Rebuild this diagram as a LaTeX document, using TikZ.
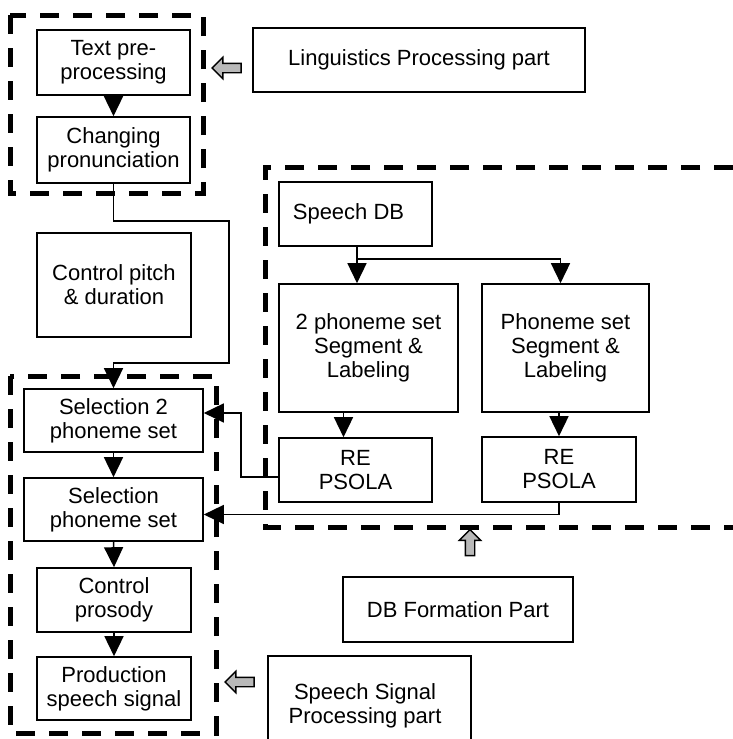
\documentclass[tikz,border=0pt]{standalone}
\usepackage{fontspec}
\setmainfont{Liberation Sans}
\usetikzlibrary{arrows.meta,shapes.arrows}
\begin{document}
\begin{tikzpicture}[x=1pt,y=-1pt,
  font=\fontsize{22}{24}\selectfont,
  box/.style={draw,line width=1.6pt,align=center,inner sep=2pt},
  grp/.style={draw,line width=5pt,dash pattern=on 19pt off 14pt},
  arr/.style={line width=1.5pt,-{Triangle[width=19pt,length=20pt]}},
  hollow/.style={single arrow,draw,line width=1.4pt,fill=gray!55,inner sep=4pt,
    single arrow head extend=6pt,single arrow head indent=0pt,minimum height=29pt}]
\useasboundingbox (0,0) rectangle (733,739);
% group frames
\draw[grp] (10,15) rectangle (203,193);
\draw[grp] (10,376) rectangle (216,733);
\draw[grp] (733,167) -- (265,167) -- (265,527) -- (733,527);
% left column
\node[box,minimum width=153pt,minimum height=65pt] (tpre) at (113.5,62.5) {Text pre-\\processing};
\node[box,minimum width=153pt,minimum height=66pt] (chpron) at (113.5,150) {Changing\\pronunciation};
\node[box,minimum width=154pt,minimum height=104pt] (ctrlp) at (114,285) {Control pitch\\\& duration};
\node[box,minimum width=179pt,minimum height=63pt] (sel2) at (113.5,420.5) {Selection 2\\phoneme set};
\node[box,minimum width=179pt,minimum height=63pt] (sel1) at (113.5,509.5) {Selection\\phoneme set};
\node[box,minimum width=154pt,minimum height=64pt] (pros) at (114,600) {Control\\prosody};
\node[box,minimum width=154pt,minimum height=63pt] (prod) at (114,688.5) {Production\\speech signal};
% DB part
\node[box,minimum width=153pt,minimum height=64pt] (sdb) at (355.5,214) {Speech DB\hspace{14pt}};
\node[box,minimum width=179pt,minimum height=128pt] (ph2) at (368.5,348) {2 phoneme set\\Segment \&\\Labeling};
\node[box,minimum width=167pt,minimum height=128pt] (ph1) at (565.5,348) {Phoneme set\\Segment \&\\Labeling};
\node[box,minimum width=153pt,minimum height=64pt] (re1) at (355.5,470) {RE\\PSOLA};
\node[box,minimum width=154pt,minimum height=65pt] (re2) at (559,469.5) {RE\\PSOLA};
% part labels
\node[box,minimum width=332pt,minimum height=64pt] (ling) at (419,60) {Linguistics Processing part};
\node[box,minimum width=230pt,minimum height=65pt] (dbf) at (458,609.5) {DB Formation Part};
\draw[line width=1.6pt] (268,745) -- (268,656) -- (471,656) -- (471,745);
\node[align=center] (ssp) at (365,706) {Speech Signal\\Processing part};
% hollow arrows
\node[hollow,shape border rotate=180] (ha1) at (229,68) {};
\node[hollow,shape border rotate=180] (ha2) at (242,682) {};
\node[hollow,shape border rotate=90,minimum height=26pt] (ha3) at (470,545) {};
% connectors
\draw[arr] (tpre.south) -- (chpron.north);
\draw[arr] (chpron.south) |- (229,221) -- (229,363) -| (sel2.north);
\draw[arr] (sel2.south) -- (sel1.north);
\draw[arr] (sel1.south) -- (pros.north);
\draw[arr] (pros.south) -- (prod.north);
\coordinate (br) at (357,259);
\draw[arr] (br |- sdb.south) -- (br |- ph2.north);
\draw[arr] (br) -| ([xshift=-5pt]ph1.north);
\draw[arr] ([xshift=-12pt]re1.north |- ph2.south) -- ([xshift=-12pt]re1.north);
\draw[arr] (re2.north |- ph1.south) -- (re2.north);
\draw[arr] ([yshift=-7pt]re1.west) -| (241,413) -- ([yshift=7.5pt]sel2.east);
\draw[arr] (re2.south) |- ([yshift=-5pt]sel1.east);
\end{tikzpicture}
\end{document}
